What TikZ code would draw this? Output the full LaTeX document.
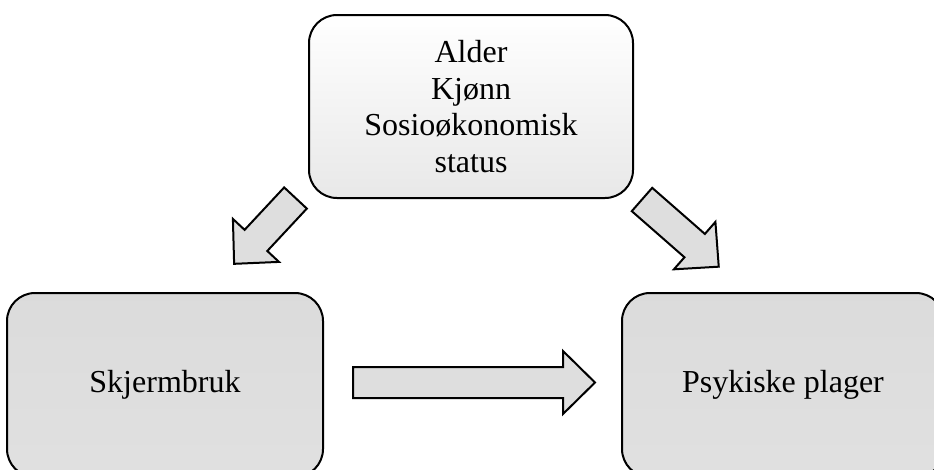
\documentclass[tikz,border=0pt]{standalone}
\usepackage{fontspec}
\setmainfont{Liberation Serif}
\begin{document}
\begin{tikzpicture}[x=1pt,y=-1pt,
  box/.style={draw=black, line width=2pt, rounded corners=28pt, inner sep=0pt,
    align=center, font=\fontsize{32}{36.8}\selectfont},
  topbox/.style={box, top color=white, bottom color=black!9},
  lowbox/.style={box, top color=black!14, middle color=black!17, bottom color=black!12},
  blockarrow/.style={draw=black, line width=2pt, fill=black!13, line join=miter}]
\clip (0,0) rectangle (934,469);
\fill[white] (0,0) rectangle (934,469);

% the three boxes
\node[topbox, minimum width=324pt, minimum height=183pt] (cov) at (471,106.5)
  {Alder\\Kjønn\\Sosioøkonomisk\\status};
\node[lowbox, minimum width=316pt, minimum height=184pt] (screen) at (165,385) {Skjermbruk};
\node[lowbox, minimum width=322pt, minimum height=184pt] (mental) at (783,385) {Psykiske plager};

% block arrow: tail centre, direction (degrees), length
\newcommand\blockarr[3]{%
  \begin{scope}[shift={#1}, rotate=#2]
    \draw[blockarrow] (0,-15.5) -- (#3-32,-15.5) -- (#3-32,-31.5) -- (#3,0)
      -- (#3-32,31.5) -- (#3-32,15.5) -- (0,15.5) -- cycle;
  \end{scope}}

\blockarr{(295.5,198)}{227}{90}
\blockarr{(642,199.5)}{-41.2}{102}
\blockarr{(353,382.5)}{0}{242}
\end{tikzpicture}
\end{document}
